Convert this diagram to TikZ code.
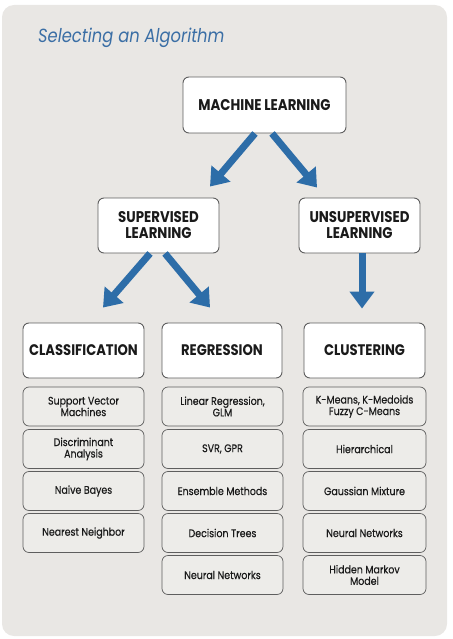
\documentclass[tikz,border=0pt]{standalone}
\usepackage{fontspec}
\setmainfont{Poppins}[FakeStretch=0.86]
\newfontfamily\algfont{Poppins}[FakeStretch=0.86, FakeBold=0.35]
\usetikzlibrary{arrows.meta,calc}
\definecolor{panel}{HTML}{E9E7E4}
\definecolor{boxline}{HTML}{5E5E5E}
\definecolor{arrowblue}{HTML}{2D6DA8}
\definecolor{titleblue}{HTML}{3A6EA5}
\definecolor{ink}{HTML}{1A1A1A}
\begin{document}
\begin{tikzpicture}[x=1pt,y=-1pt,
  bigbox/.style={draw=boxline, line width=0.9pt, fill=white, rounded corners=6pt,
    minimum width=121pt, minimum height=55pt, inner sep=0pt, align=center,
    text=ink, font=\fontsize{15.5}{16}\selectfont\bfseries},
  catbox/.style={bigbox, font=\fontsize{15.3}{17}\selectfont\bfseries},
  algbox/.style={draw=boxline, line width=0.7pt, fill=panel!80!white, rounded corners=6pt,
    minimum width=121pt, minimum height=39pt, inner sep=0pt, align=center,
    text=ink, font=\algfont\fontsize{11}{11.5}\selectfont},
  bluearrow/.style={draw=arrowblue, line width=7pt, -{Triangle[length=17pt,width=24pt]}}]
\useasboundingbox (0,0) rectangle (452,639);
\fill[panel, rounded corners=12pt] (2,5) rectangle (447,636);
\node[anchor=base west, text=titleblue, inner sep=0pt, font=\fontsize{19}{22}\selectfont\itshape] (title) at (38,43) {Selecting an Algorithm};
% main nodes
\node[bigbox, minimum width=163pt, minimum height=56pt] (ml) at (264.5,105) {MACHINE LEARNING};
\node[bigbox] (sup) at (158.5,225.5) {SUPERVISED\\LEARNING};
\node[bigbox] (uns) at (359.5,225.5) {UNSUPERVISED\\LEARNING};
\node[catbox] (cls) at (83.5,350.5) {CLASSIFICATION};
\node[catbox, minimum width=120pt] (reg) at (222,350.5) {REGRESSION};
\node[catbox] (clu) at (364.5,350.5) {CLUSTERING};
% algorithms
\node[algbox] (c1) at (83.5,406.5) {Support Vector\\Machines};
\node[algbox] (c2) at (83.5,449) {Discriminant\\Analysis};
\node[algbox] (c3) at (83.5,491) {Naive Bayes};
\node[algbox] (c4) at (83.5,533) {Nearest Neighbor};
\node[algbox] (r1) at (222.5,406.5) {Linear Regression,\\GLM};
\node[algbox] (r2) at (222.5,449) {SVR, GPR};
\node[algbox] (r3) at (222.5,491) {Ensemble Methods};
\node[algbox] (r4) at (222.5,533) {Decision Trees};
\node[algbox] (r5) at (222.5,575) {Neural Networks};
\node[algbox, minimum width=123pt] (u1) at (364.5,406.5) {K-Means, K-Medoids\\Fuzzy C-Means};
\node[algbox, minimum width=123pt] (u2) at (364.5,449) {Hierarchical};
\node[algbox, minimum width=123pt] (u3) at (364.5,491) {Gaussian Mixture};
\node[algbox, minimum width=123pt] (u4) at (364.5,533) {Neural Networks};
\node[algbox, minimum width=123pt] (u5) at (364.5,575) {Hidden Markov\\Model};
% arrows
\draw[bluearrow] ($(ml.south)+(-9.5,0)$) -- ($(sup.north)+(51.5,-11)$);
\draw[bluearrow] ($(ml.south)+(7.5,0)$) -- ($(uns.north)+(-42.5,-10)$);
\draw[bluearrow] ($(sup.south)+(-8.5,0)$) -- ($(cls.north)+(19.5,-15)$);
\draw[bluearrow] ($(sup.south)+(6.5,0)$) -- ($(reg.north)+(-12,-15)$);
\draw[bluearrow] ($(uns.south)+(2.5,0)$) -- ($(clu.north)+(-2.5,-14)$);
\end{tikzpicture}
\end{document}
